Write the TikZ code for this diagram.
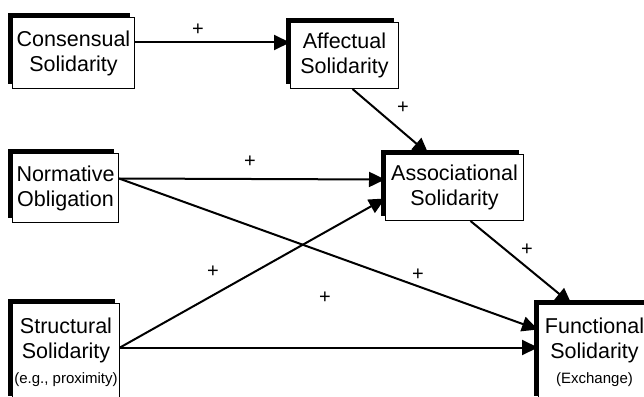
\documentclass[tikz,border=0pt]{standalone}
\usepackage{fontspec}
\setmainfont{Liberation Sans}
\usetikzlibrary{shadows,arrows.meta}
\begin{document}
\begin{tikzpicture}[x=1pt,y=-1pt,
  box/.style={draw, line width=1pt, fill=white, anchor=north west, align=center, inner sep=0pt,
    font=\fontsize{21.5}{25}\selectfont,
    drop shadow={shadow xshift=-4.5pt, shadow yshift=4.5pt, fill=black, opacity=1}},
  conn/.style={line width=2pt, -{Triangle[length=16pt,width=15pt]}},
  plus/.style={font=\fontsize{20}{24}\selectfont, inner sep=0pt}]
\useasboundingbox (0,0) rectangle (644,396);
\node[box, minimum width=122pt, minimum height=71pt] (cons) at (12,17) {Consensual\\Solidarity};
\node[box, minimum width=108pt, minimum height=66pt] (aff) at (290,22) {Affectual\\Solidarity};
\node[box, minimum width=138pt, minimum height=66pt] (assoc) at (385,154) {Associational\\Solidarity};
\node[box, minimum width=106pt, minimum height=69pt] (norm) at (12,153) {Normative\\Obligation};
\node[box, minimum width=107pt, minimum height=97pt] (struct) at (12,303) {Structural\\Solidarity\\{\fontsize{15}{18}\selectfont (e.g., proximity)}};
\node[box, minimum width=112pt, minimum height=96pt] (func) at (538,304) {Functional\\Solidarity\\{\fontsize{15}{18}\selectfont (Exchange)}};

\draw[conn] ([yshift=10.5pt]cons.east) -- ([yshift=13pt]aff.west);
\draw[conn] ([xshift=8pt]aff.south) -- ([xshift=-26pt]assoc.north);
\draw[conn] ([yshift=9.5pt]norm.east) -- ([yshift=8pt]assoc.west);
\draw[conn] ([yshift=9.5pt]norm.east) -- ([yshift=23pt]func.west);
\draw[conn] ([yshift=4.5pt]struct.east) -- ([yshift=-11pt]assoc.west);
\draw[conn] ([yshift=4.5pt]struct.east) -- ([yshift=5pt]func.west);
\draw[conn] ([xshift=16pt]assoc.south) -- ([xshift=-23pt]func.north);

\node[plus] (p1) at (198,30) {+};
\node[plus] (p2) at (403,108) {+};
\node[plus] (p3) at (250,162) {+};
\node[plus] (p4) at (527,250) {+};
\node[plus] (p5) at (418,275) {+};
\node[plus] (p6) at (213,272) {+};
\node[plus] (p7) at (325,298) {+};
\end{tikzpicture}
\end{document}
